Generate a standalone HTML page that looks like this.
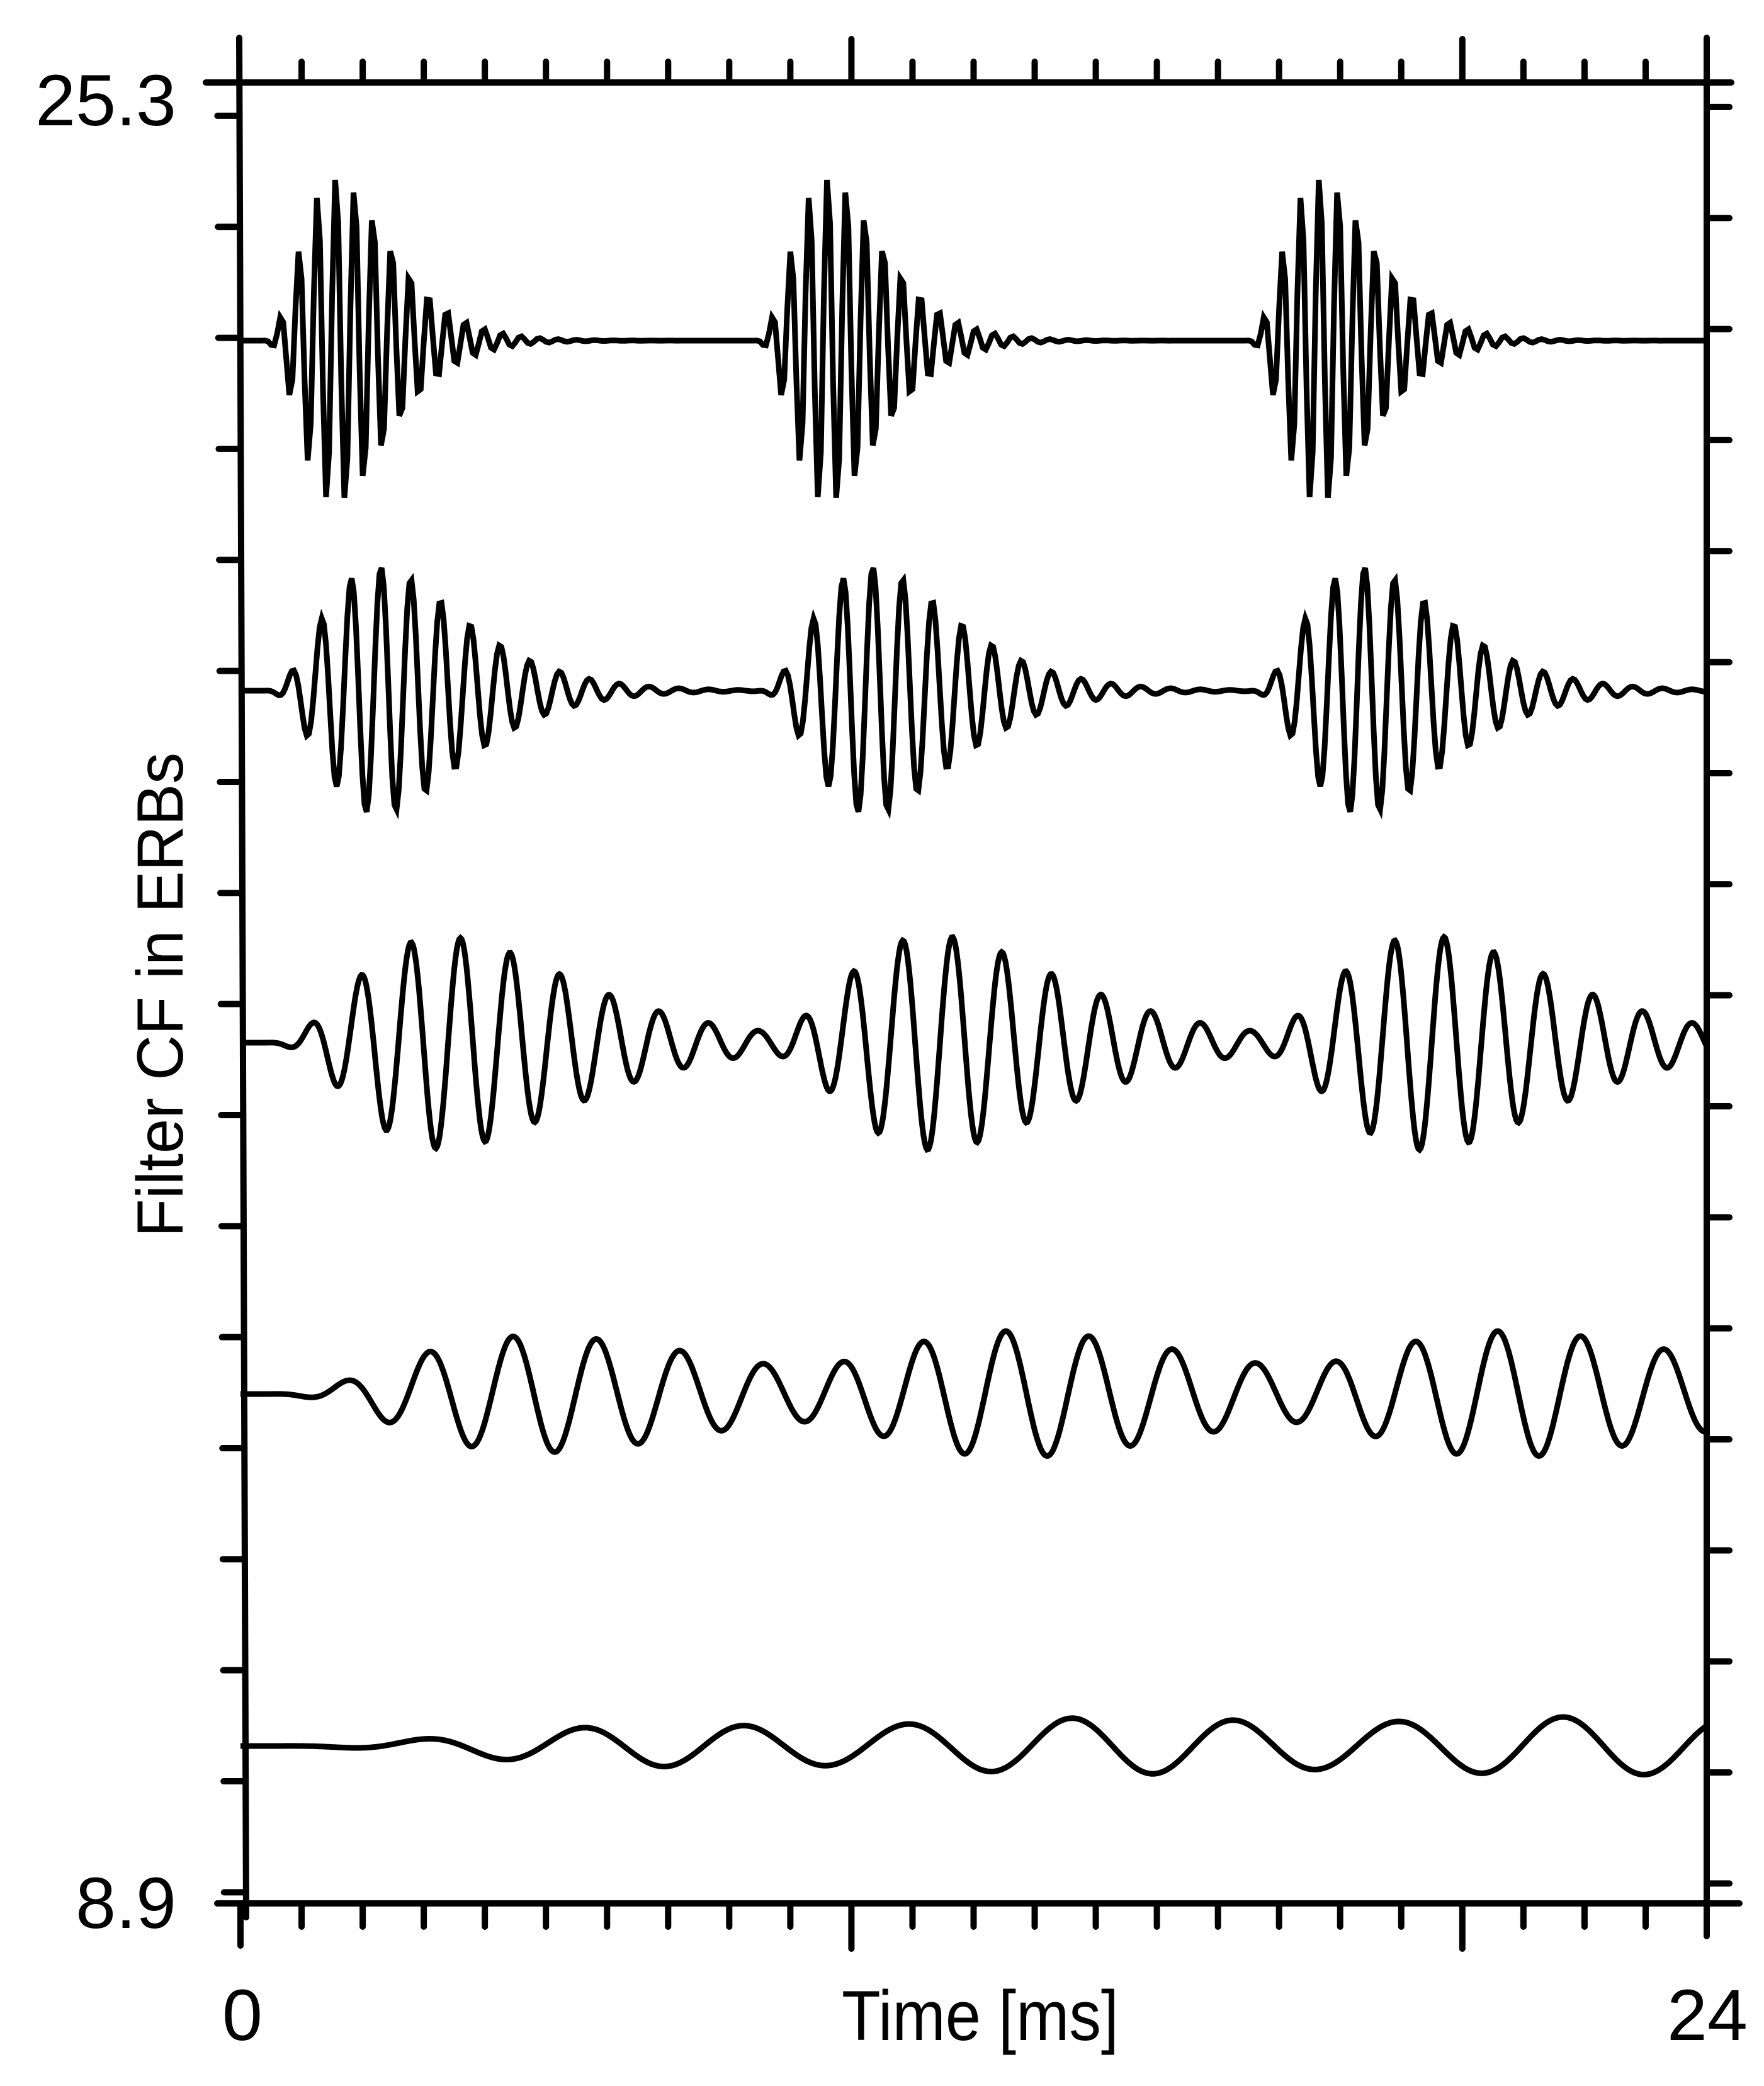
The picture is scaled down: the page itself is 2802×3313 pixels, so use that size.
<!DOCTYPE html>
<html><head><meta charset="utf-8"><style>
html,body{margin:0;padding:0;background:#fff}
svg{display:block}
text{font-family:"Liberation Sans",Arial,sans-serif;fill:#000}
</style></head><body>
<svg id="s" width="2802" height="3313" viewBox="0 0 2802 3313" xmlns="http://www.w3.org/2000/svg">
<g id="ax" stroke="#000" stroke-width="10" stroke-linecap="round" fill="none"></g>
<g id="tr" stroke="#000" stroke-width="9" stroke-linejoin="miter" fill="none"></g>
<text x="280" y="199" font-size="115" text-anchor="end">25.3</text>
<text x="280" y="3062" font-size="115" text-anchor="end">8.9</text>
<text x="385" y="3240" font-size="115" text-anchor="middle">0</text>
<text x="2712" y="3240" font-size="115" text-anchor="middle">24</text>
<text x="1557" y="3240" font-size="112" text-anchor="middle" textLength="440" lengthAdjust="spacingAndGlyphs">Time [ms]</text>
<text transform="translate(290,1580) rotate(-90)" x="0" y="0" font-size="104" text-anchor="middle" textLength="770" lengthAdjust="spacingAndGlyphs">Filter CF in ERBs</text>
</svg>
<script>
(function(){
var NS="http://www.w3.org/2000/svg";
var ax=document.getElementById("ax"),tr=document.getElementById("tr");
function L(x1,y1,x2,y2,w){var l=document.createElementNS(NS,"line");l.setAttribute("x1",x1);l.setAttribute("y1",y1);l.setAttribute("x2",x2);l.setAttribute("y2",y2);if(w)l.setAttribute("stroke-width",w);ax.appendChild(l);}
var X0=382,X1=2711,TOP=131,BOT=3023;
L(380,60,391,3045);
L(X1,60,X1,3075);
L(327,TOP,2750,TOP);
L(345,BOT,2763,BOT);
var dx=(X1-X0)/24;
for(var i=0;i<=24;i++){
  var x=X0+i*dx; var maj=(i%10==0);
  if(i>0&&i<24){L(x,TOP,x,maj?62:98);}
  if(i>0&&i<24){L(x,BOT,x,maj?3095:3060);}
  if(i==0){L(x,BOT,x,3090);}
}
var pe=(BOT-TOP)/16.4;
for(var e=9;e<=25;e++){
  var y=TOP+(25.3-e)*pe;
  var lx=380+(y-60)/2985*11;
  L(lx-35,y,lx,y);
  L(X1,y-14,X1+36,y-14);
}
var pulses=[0.35,8.4,16.45];
var cfg=[
 {y:541,f:3300,A:255,dt:0.05},
 {y:1097,f:2050,A:195,dt:0.035},
 {y:1656,f:1230,A:170,dt:0.02},
 {y:2214,f:730,A:100,dt:0.02},
 {y:2773,f:380,A:46,dt:0.02}
];
cfg.forEach(function(c){
  var erb=24.7+0.108*c.f, b=1.019*erb*2*Math.PI/1000;
  var w=2*Math.PI*c.f/1000;
  var vals=[],ts=[];
  for(var t=0;t<=24.0001;t+=c.dt){
    var v=0;
    pulses.forEach(function(p){var u=t-p;if(u>0)v+=Math.pow(u,3)*Math.exp(-b*u)*Math.cos(w*u);});
    vals.push(v);ts.push(t);
  }
  var m=0;vals.forEach(function(v){if(Math.abs(v)>m)m=Math.abs(v);});
  var d="";
  for(var k=0;k<vals.length;k++){
    var x=X0+ts[k]*dx, y=c.y - vals[k]/m*c.A;
    d+=(k?"L":"M")+x.toFixed(1)+","+y.toFixed(1);
  }
  var p=document.createElementNS(NS,"path");p.setAttribute("d",d);tr.appendChild(p);
});
})();
</script>
</body></html>
